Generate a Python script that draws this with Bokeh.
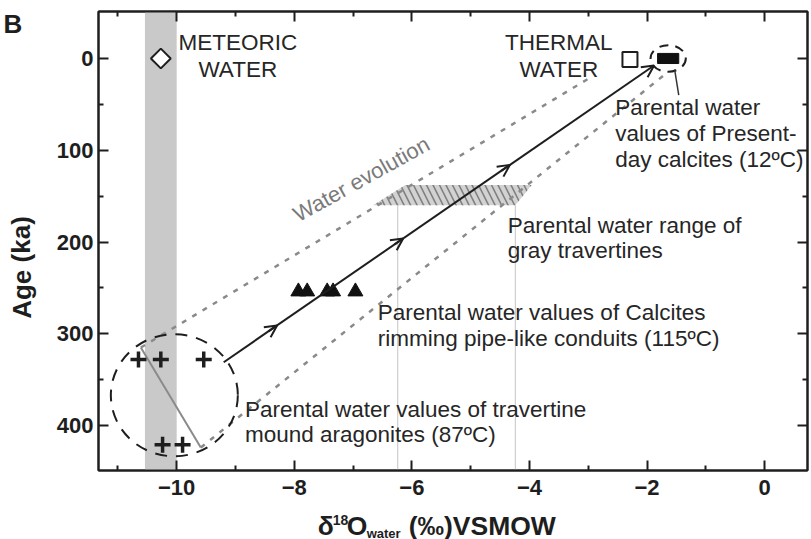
from bokeh.plotting import figure
from bokeh.layouts import column, row
from bokeh.models import (Range1d, FixedTicker, LinearAxis, BoxAnnotation, Arrow,
                          OpenHead, ColumnDataSource)
from bokeh.core.properties import value
from bokeh.embed import file_html
from bokeh.resources import INLINE

FONT = "Liberation Sans"
INK = "#1e1e1e"
GREY = "#8a8a8a"

# ---- data: d18O of water (per mil VSMOW) against age (ka) ----
meteoric_band = [-10.54, -10.0]
meteoric_d18o = [-10.27]
meteoric_age = [0]

thermal_d18o = [-2.29]
thermal_age = [1]

present_d18o_range = [-1.82, -1.46]
present_age_range = [-5.5, 5.5]
present_field = dict(d18o=-1.64, age=0, d18o_span=0.6, age_span=29)

aragonite_d18o = [-10.65, -10.27, -9.54, -10.24, -9.90]
aragonite_age = [328, 328, 328, 421, 421]
aragonite_field = dict(d18o=-10.04, age=367, d18o_span=2.16, age_span=133)

calcite_d18o = [-7.93, -7.78, -7.44, -7.34, -6.96]
calcite_age = [254, 254, 254, 254, 254]

travertine_d18o = [-6.11, -3.96, -4.24, -6.66]
travertine_age = [138, 138, 160, 160]
travertine_limits = [-6.24, -4.24]

evolution_d18o = [-9.20, -1.88]
evolution_age = [331, 7.6]
arrow_fractions = [0.124, 0.417, 0.665]

upper_env_d18o = [-10.61, -2.97]
upper_env_age = [315, 21]
lower_env_d18o = [-9.59, -1.65]
lower_env_age = [424, 15]
section_d18o = [-10.61, -9.59]
section_age = [315, 424]

x_major = [-10, -8, -6, -4, -2, 0]
x_minor = [-11, -9, -7, -5, -3, -1]
y_major = [0, 100, 200, 300, 400]
y_minor = [50, 150, 250, 350]

X_RANGE = (-11.33, 0.73)
Y_RANGE = (449, -51.2)   # age grows downwards


def no_frame_align(fig):
    # keep every frame exactly where its own borders put it
    try:
        fig.frame_align = False
    except AttributeError:
        pass


# ---- main plot ----
MAIN_H = 508
p = figure(width=767, height=MAIN_H,
           x_range=Range1d(*X_RANGE), y_range=Range1d(*Y_RANGE),
           output_backend="svg", toolbar_location=None,
           min_border_left=54, min_border_right=4, min_border_top=11,
           min_border_bottom=38)
no_frame_align(p)
p.grid.visible = False
p.background_fill_color = "white"
p.border_fill_color = "white"
p.outline_line_color = INK
p.outline_line_width = 2

xt = FixedTicker(ticks=x_major, minor_ticks=x_minor)
yt = FixedTicker(ticks=y_major, minor_ticks=y_minor)


def style_axis(ax, ticker, labels=True):
    ax.ticker = ticker
    ax.axis_line_color = INK
    ax.axis_line_width = 2
    ax.major_tick_line_color = INK
    ax.major_tick_line_width = 2
    ax.minor_tick_line_color = INK
    ax.minor_tick_line_width = 2
    ax.major_tick_in = 10
    ax.major_tick_out = 0
    ax.minor_tick_in = 5
    ax.minor_tick_out = 0
    if labels:
        ax.major_label_text_font = FONT
        ax.major_label_text_font_style = "bold"
        ax.major_label_text_font_size = "22px"
        ax.major_label_text_color = INK
    else:
        # mirrored ticks only
        ax.major_label_text_font_size = "1px"
        ax.major_label_text_color = None
        ax.major_label_standoff = 0


style_axis(p.xaxis[0], xt)
p.xaxis[0].major_label_standoff = 9
style_axis(p.yaxis[0], yt)
p.yaxis[0].major_label_standoff = 5

top_axis = LinearAxis()
style_axis(top_axis, xt, labels=False)
p.add_layout(top_axis, "above")
right_axis = LinearAxis()
style_axis(right_axis, yt, labels=False)
p.add_layout(right_axis, "right")

# meteoric water band
p.add_layout(BoxAnnotation(left=meteoric_band[0], right=meteoric_band[1],
                           fill_color="#c9c9c9", fill_alpha=1, line_alpha=0,
                           level="underlay"))

# gray travertines range and its limits
p.segment(x0=travertine_limits, y0=[travertine_age[2]] * 2,
          x1=travertine_limits, y1=[Y_RANGE[0]] * 2,
          line_color="#c4c4c4", line_width=1)
p.patch(travertine_d18o, travertine_age, fill_color="#d2d2d2", line_alpha=0,
        hatch_pattern="\\", hatch_color="#808080", hatch_weight=1.6,
        hatch_scale=13)

# envelopes of the water evolution
p.line(upper_env_d18o, upper_env_age, line_color=GREY, line_width=2.5,
       line_dash="5 7")
p.line(lower_env_d18o, lower_env_age, line_color=GREY, line_width=2.5,
       line_dash="5 7")
p.line(section_d18o, section_age, line_color=GREY, line_width=2)

# fields drawn around the sample groups
p.ellipse(x=[aragonite_field["d18o"]], y=[aragonite_field["age"]],
          width=aragonite_field["d18o_span"], height=aragonite_field["age_span"],
          fill_alpha=0, line_color=INK, line_width=2, line_dash="12 9")
p.ellipse(x=[present_field["d18o"]], y=[present_field["age"]],
          width=present_field["d18o_span"], height=present_field["age_span"],
          fill_alpha=0, line_color=INK, line_width=2, line_dash="9 7")

# evolution path with arrows
head = dict(size=12, line_width=2, line_color=INK)
p.add_layout(Arrow(end=OpenHead(**head), x_start=evolution_d18o[0],
                   y_start=evolution_age[0], x_end=evolution_d18o[1],
                   y_end=evolution_age[1], line_color=INK, line_width=2))
dx = evolution_d18o[1] - evolution_d18o[0]
dy = evolution_age[1] - evolution_age[0]
for f in arrow_fractions:
    xe = evolution_d18o[0] + f * dx
    ye = evolution_age[0] + f * dy
    p.add_layout(Arrow(end=OpenHead(**head), x_start=xe - 0.02 * dx,
                       y_start=ye - 0.02 * dy, x_end=xe, y_end=ye,
                       line_color=INK, line_width=2))

# samples
p.scatter(meteoric_d18o, meteoric_age, marker="square", angle=0.7854, size=14,
          fill_color="white", line_color=INK, line_width=2)
p.scatter(thermal_d18o, thermal_age, marker="square", size=15,
          fill_color="white", line_color=INK, line_width=2)
p.quad(left=[present_d18o_range[0]], right=[present_d18o_range[1]],
       bottom=[present_age_range[1]], top=[present_age_range[0]],
       fill_color="#111111", line_color="#111111")
p.segment(x0=[-1.53], y0=[12], x1=[-1.46], y1=[40], line_color="#333",
          line_width=1.5)
p.scatter(aragonite_d18o, aragonite_age, marker="cross", size=16,
          line_color=INK, line_width=3.5)
p.scatter(calcite_d18o, calcite_age, marker="triangle", size=15,
          fill_color="#111111", line_color="#111111")

# annotations (anchored at the middle of each line of text)
txt = dict(text_font=value(FONT), text_font_size="22.5px", text_color="#262626",
           text_baseline="middle")
centred = ColumnDataSource(dict(
    x=[-8.96, -8.96, -3.50, -3.50],
    y=[-17.2, 12.2, -17.2, 12.2],
    text=["METEORIC", "WATER", "THERMAL", "WATER"]))
p.text(x="x", y="y", text="text", source=centred, text_align="center", **txt)

left = ColumnDataSource(dict(
    x=[-2.54, -2.54, -2.54, -4.37, -4.37, -6.58, -6.58, -8.84, -8.84],
    y=[53.5, 82, 110.5, 182, 209.5, 277, 305, 382.5, 410],
    text=["Parental water", "values of Present-", "day calcites (12ºC)",
          "Parental water range of", "gray travertines",
          "Parental water values of Calcites",
          "rimming pipe-like conduits (115ºC)",
          "Parental water values of travertine",
          "mound aragonites (87ºC)"]))
p.text(x="x", y="y", text="text", source=left, text_align="left", **txt)

p.text(x=[-7.988], y=[171.6], text=["Water evolution"], angle=0.506,
       text_align="left", text_baseline="middle", text_font=value(FONT),
       text_font_size="22px", text_color="#7a7a7a")

bold = dict(text_font=value(FONT), text_font_style="bold", text_color=INK)


def strip(width, height, x_range, y_range, left=0, right=0):
    s = figure(width=width, height=height, x_range=x_range, y_range=y_range,
               x_axis_type=None, y_axis_type=None, output_backend="svg",
               toolbar_location=None, min_border_left=left,
               min_border_right=right, min_border_top=0, min_border_bottom=0)
    no_frame_align(s)
    s.grid.visible = False
    s.outline_line_color = None
    s.background_fill_color = "white"
    s.border_fill_color = "white"
    return s


# ---- left strip: panel letter and the age axis title (pixel units) ----
SIDE_W = 44
side = strip(SIDE_W, MAIN_H, Range1d(0, SIDE_W), Range1d(MAIN_H, 0))
side.text(x=[3], y=[23], text=["B"], text_align="left",
          text_baseline="middle", text_font_size="26px", **bold)
side.text(x=[21], y=[267], text=["Age (ka)"], angle=1.5708, text_align="center",
          text_baseline="middle", text_font_size="26px", **bold)

# ---- bottom strip: d18O axis title with super- and subscript ----
FOOT_H = 539 - MAIN_H
foot = strip(811, FOOT_H, p.x_range, Range1d(FOOT_H, 0), left=98, right=4)
title_parts = ColumnDataSource(dict(
    x=[-7.602, -7.347, -7.109, -6.769, -6.054],
    y=[17, 11, 17, 24.5, 17],
    text=["δ", "18", "O", "water", "(‰)VSMOW"],
    size=["26.5px", "14px", "26.5px", "13px", "26.5px"]))
foot.text(x="x", y="y", text="text", text_font_size="size", source=title_parts,
          text_align="left", text_baseline="middle", **bold)

layout = column(row(side, p, spacing=0), foot, spacing=0)
open("out.html", "w").write(file_html(layout, INLINE))
